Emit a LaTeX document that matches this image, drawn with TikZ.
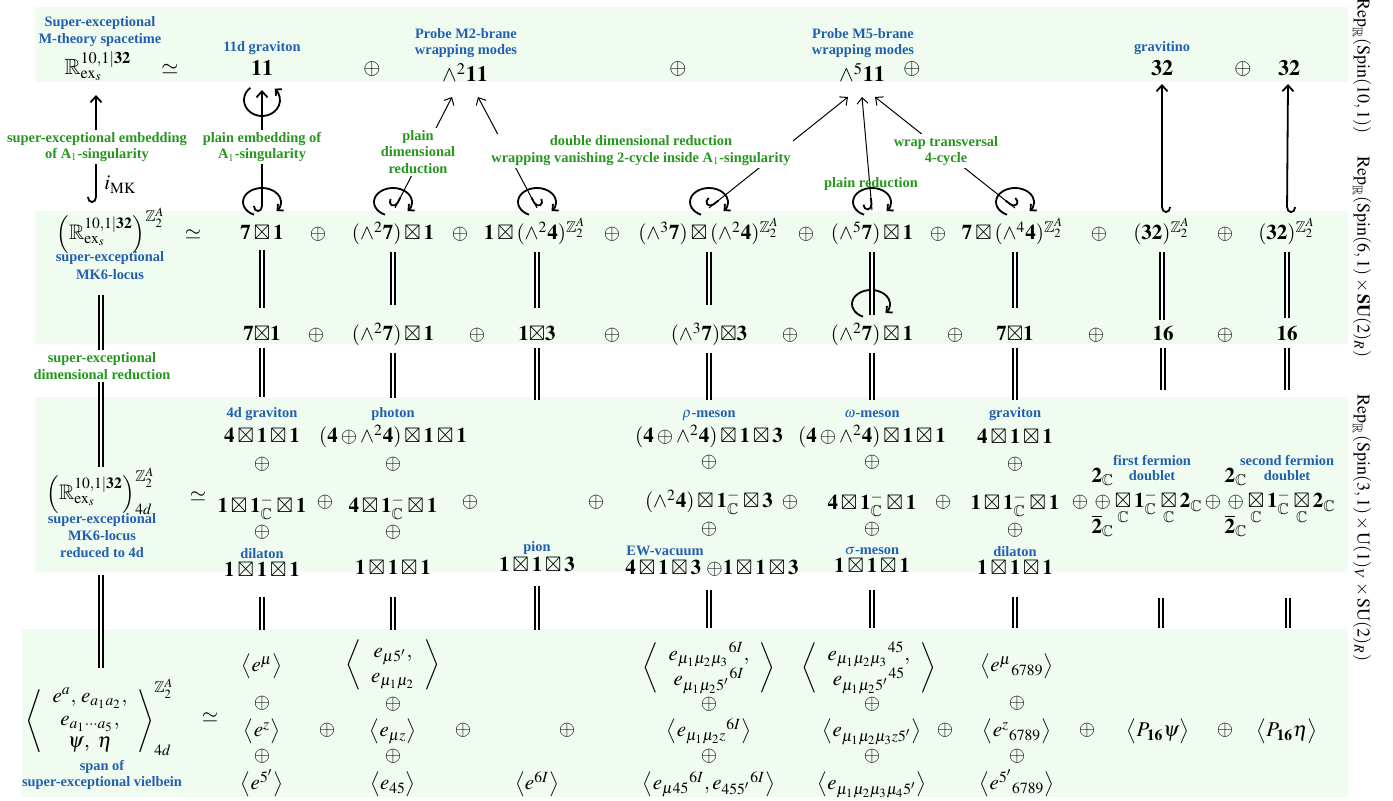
\documentclass[tikz,border=0pt]{standalone}
\usepackage{amsmath}
\usepackage{mathptmx}
\usepackage{amssymb}
\usepackage{fontspec}
\setmainfont{Liberation Serif}
\usetikzlibrary{arrows.meta,calc}
\definecolor{bandg}{RGB}{240,252,240}
\definecolor{labblue}{RGB}{35,95,175}
\definecolor{labgreen}{RGB}{38,150,30}
\newcommand\myZ{\mathbb{Z}_2^{A}}
\newcommand\myC{\mathbb{C}}
\newcommand\myRex{\mathbb{R}^{10,1\vert\mathbf{32}}_{\mathrm{ex}_s}}
\newcommand\myferm{\begin{array}{@{}c@{}}\mathbf{2}_{\myC}\\ \oplus\\ \overline{\mathbf{2}}_{\myC}\end{array}\!\underset{\myC}{\boxtimes}\mathbf{1}^-_{\myC}\underset{\myC}{\boxtimes}\mathbf{2}_{\myC}}
\newcommand\opl[3]{\node[m] (#1) at (#2,#3) {$\oplus$};}
\newcommand\looptop[2]{\draw[lp] ($(#1,#2)+(230:18 and 16)$) arc[start angle=230,end angle=-45,x radius=18,y radius=16];}
\newcommand\loopbot[2]{\draw[lp] ($(#1,#2)+(115:19 and 14)$) arc[start angle=115,end angle=400,x radius=19,y radius=14];}
\tikzset{
  m/.style={anchor=base, inner sep=0pt, font=\fontsize{10.5}{12.6}\selectfont},
  mt/.style={anchor=base, inner sep=0pt, font=\fontsize{11}{13.2}\selectfont},
  bl/.style={anchor=base, inner sep=0pt, text=labblue, font=\fontsize{7.2}{8.4}\selectfont\bfseries},
  gl/.style={anchor=center, inner sep=1.2pt, fill=white, text=labgreen, align=center, font=\fontsize{7.2}{8.4}\selectfont\bfseries},
  rot/.style={rotate=-90, inner sep=0pt, font=\fontsize{9}{11}\selectfont},
  thk/.style={line width=0.9pt},
  thn/.style={line width=0.5pt},
  dbl/.style={double, double distance=1.2pt, line width=0.75pt},
  hookW/.tip={Hooks[right,width=9pt,length=3pt]},
  hookE/.tip={Hooks[left,width=9pt,length=3pt]},
  hd/.tip={Straight Barb[length=3pt,width=5.5pt]},
  sb/.tip={Straight Barb[length=2.2pt,width=4.4pt]},
  lp/.style={line width=0.9pt, -sb},
}
\begin{document}
\begin{tikzpicture}[x=0.5pt,y=-0.5pt]
\useasboundingbox (0,0) rectangle (1393,801);
% bands
\fill[bandg] (35,7) rectangle (1348,82);
\fill[bandg] (35,211) rectangle (1348,344);
\fill[bandg] (35,397) rectangle (1348,572);
\fill[bandg] (22,629) rectangle (1348,797);

% ---------- Row A
\node[bl] (tA0a) at (100,27) {Super-exceptional};
\node[bl] (tA0b) at (100,44) {M-theory spacetime};
\node[mt] (A0) at (98,75) {$\myRex$};
\node[mt] (eqA) at (170,75) {$\simeq$};
\node[bl] (tA1) at (262,52) {11d graviton};
\node[mt] (A1) at (262,76) {$\mathbf{11}$};
\node[mt] (pA1) at (372,75) {$\oplus$};
\node[bl] (tA2a) at (466,39) {Probe M2-brane};
\node[bl] (tA2b) at (466,55) {wrapping modes};
\node[mt] (A2) at (465,82) {$\wedge^2\mathbf{11}$};
\node[mt] (pA2) at (678,75) {$\oplus$};
\node[bl] (tA3a) at (863,39) {Probe M5-brane};
\node[bl] (tA3b) at (863,55) {wrapping modes};
\node[mt] (A3) at (862,82) {$\wedge^5\mathbf{11}$};
\node[mt] (pA3) at (912,75) {$\oplus$};
\node[bl] (tA4) at (1162,52) {gravitino};
\node[mt] (A4) at (1162,76) {$\mathbf{32}$};
\node[mt] (pA4) at (1243,75) {$\oplus$};
\node[mt] (A5) at (1289,76) {$\mathbf{32}$};

% ---------- Row B
\node[m] (B0) at (111,240) {$\Big(\myRex\Big)^{\myZ}$};
\node[bl] (tB0a) at (110,262) {super-exceptional};
\node[bl] (tB0b) at (110,280) {MK6-locus};
\node[m] (eqB) at (193,240) {$\simeq$};
\node[m] (B1) at (262,240) {$\mathbf{7}\boxtimes\mathbf{1}$};
\opl{pB1}{318}{240}
\node[m] (B2) at (393,240) {$(\wedge^2\mathbf{7})\boxtimes\mathbf{1}$};
\opl{pB2}{460}{240}
\node[m] (B3) at (535,240) {$\mathbf{1}\boxtimes(\wedge^2\mathbf{4})^{\myZ}$};
\opl{pB3}{612}{240}
\node[m] (B4) at (709,240) {$(\wedge^3\mathbf{7})\boxtimes(\wedge^2\mathbf{4})^{\myZ}$};
\opl{pB4}{806}{240}
\node[m] (B5) at (872,240) {$(\wedge^5\mathbf{7})\boxtimes\mathbf{1}$};
\opl{pB5}{938}{240}
\node[m] (B6) at (1013,240) {$\mathbf{7}\boxtimes(\wedge^4\mathbf{4})^{\myZ}$};
\opl{pB6}{1099}{240}
\node[m] (B7) at (1162,240) {$(\mathbf{32})^{\myZ}$};
\opl{pB7}{1225}{240}
\node[m] (B8) at (1287,240) {$(\mathbf{32})^{\myZ}$};

% ---------- Row C
\node[m] (C1) at (262,341) {$\mathbf{7}{\boxtimes}\mathbf{1}$};
\opl{pC1}{316}{341}
\node[m] (C2) at (393,341) {$(\wedge^2\mathbf{7})\boxtimes\mathbf{1}$};
\opl{pC2}{477}{341}
\node[m] (C3) at (537,341) {$\mathbf{1}{\boxtimes}\mathbf{3}$};
\opl{pC3}{612}{341}
\node[m] (C4) at (709,341) {$(\wedge^3\mathbf{7}){\boxtimes}\mathbf{3}$};
\opl{pC4}{790}{341}
\node[m] (C5) at (872,341) {$(\wedge^2\mathbf{7})\boxtimes\mathbf{1}$};
\opl{pC5}{955}{341}
\node[m] (C6) at (1015,341) {$\mathbf{7}{\boxtimes}\mathbf{1}$};
\opl{pC6}{1096}{341}
\node[m] (C7) at (1163,341) {$\mathbf{16}$};
\opl{pC7}{1225}{341}
\node[m] (C8) at (1287,341) {$\mathbf{16}$};

% ---------- Row D
\node[m] (D0) at (101,500) {$\Big(\myRex\Big)^{\myZ}_{4d}$};
\node[bl] (tD0a) at (102,524) {super-exceptional};
\node[bl] (tD0b) at (102,541) {MK6-locus};
\node[bl] (tD0c) at (102,558) {reduced to 4d};
\node[m] (eqD) at (198,502) {$\simeq$};

\node[bl] (tD1) at (262,418) {4d graviton};
\node[m] (D1a) at (262,443) {$\mathbf{4}\boxtimes\mathbf{1}\boxtimes\mathbf{1}$};
\opl{pD1a}{262}{470}
\node[m] (D1m) at (262,513) {$\mathbf{1}\boxtimes\mathbf{1}^-_{\myC}\boxtimes\mathbf{1}$};
\opl{pD1b}{262}{538}
\node[bl] (tD1b) at (262,559) {dilaton};
\node[m] (D1b) at (262,577) {$\mathbf{1}\boxtimes\mathbf{1}\boxtimes\mathbf{1}$};

\node[bl] (tD2) at (393,418) {photon};
\node[m] (D2a) at (393,443) {$(\mathbf{4}\oplus\wedge^2\mathbf{4})\boxtimes\mathbf{1}\boxtimes\mathbf{1}$};
\opl{pD2a}{393}{470}
\node[m] (D2m) at (393,513) {$\mathbf{4}\boxtimes\mathbf{1}^-_{\myC}\boxtimes\mathbf{1}$};
\opl{pD2b}{393}{538}
\node[m] (D2b) at (393,575) {$\mathbf{1}\boxtimes\mathbf{1}\boxtimes\mathbf{1}$};

\node[bl] (tD3) at (537,552) {pion};
\node[m] (D3b) at (537,572) {$\mathbf{1}\boxtimes\mathbf{1}\boxtimes\mathbf{3}$};

\node[bl] (tD4) at (709,418) {$\rho$-meson};
\node[m] (D4a) at (709,443) {$(\mathbf{4}\oplus\wedge^2\mathbf{4})\boxtimes\mathbf{1}\boxtimes\mathbf{3}$};
\opl{pD4a}{709}{468}
\node[m] (D4m) at (709,508) {$(\wedge^2\mathbf{4})\boxtimes\mathbf{1}^-_{\myC}\boxtimes\mathbf{3}$};
\opl{pD4b}{709}{535}
\node[bl] (tD4b) at (665,556) {EW-vacuum};
\node[m] (D4b) at (712,575) {$\mathbf{4}\boxtimes\mathbf{1}\boxtimes\mathbf{3}\ \mathord{\oplus}\mathbf{1}\boxtimes\mathbf{1}\boxtimes\mathbf{3}$};

\node[bl] (tD5) at (872,418) {$\omega$-meson};
\node[m] (D5a) at (872,443) {$(\mathbf{4}\oplus\wedge^2\mathbf{4})\boxtimes\mathbf{1}\boxtimes\mathbf{1}$};
\opl{pD5a}{872}{468}
\node[m] (D5m) at (872,510) {$\mathbf{4}\boxtimes\mathbf{1}^-_{\myC}\boxtimes\mathbf{1}$};
\opl{pD5b}{872}{535}
\node[bl] (tD5b) at (872,555) {$\sigma$-meson};
\node[m] (D5b) at (872,573) {$\mathbf{1}\boxtimes\mathbf{1}\boxtimes\mathbf{1}$};

\node[bl] (tD6) at (1015,418) {graviton};
\node[m] (D6a) at (1015,444) {$\mathbf{4}\boxtimes\mathbf{1}\boxtimes\mathbf{1}$};
\opl{pD6a}{1015}{470}
\node[m] (D6m) at (1015,510) {$\mathbf{1}\boxtimes\mathbf{1}^-_{\myC}\boxtimes\mathbf{1}$};
\opl{pD6b}{1015}{536}
\node[bl] (tD6b) at (1015,557) {dilaton};
\node[m] (D6b) at (1015,575) {$\mathbf{1}\boxtimes\mathbf{1}\boxtimes\mathbf{1}$};

\node[bl] (tF1a) at (1152,466) {first fermion};
\node[bl] (tF1b) at (1152,481) {doublet};
\node[m] (F1) at (1147,508) {$\myferm$};
\node[bl] (tF2a) at (1287,466) {second fermion};
\node[bl] (tF2b) at (1287,481) {doublet};
\node[m] (F2) at (1280,508) {$\myferm$};

\opl{pD1}{325}{508}
\opl{pD2}{470}{508}
\opl{pD3}{596}{508}
\opl{pD4}{790}{508}
\opl{pD5}{943}{508}
\opl{pD6}{1080}{508}
\opl{pD7}{1213}{508}

% ---------- Row E
\node[m] (E0) at (100,726) {$\def\arraystretch{0.9}\left\langle\begin{array}{c} e^a,\, e_{a_1a_2},\\ e_{a_1\cdots a_5},\\ \psi,\ \eta\end{array}\right\rangle^{\myZ}_{4d}$};
\node[bl] (tE0a) at (102,770) {span of};
\node[bl] (tE0b) at (102,787) {super-exceptional vielbein};
\node[m] (eqE) at (210,723) {$\simeq$};

\node[m] (E1a) at (262,672) {$\big\langle e^{\mu}\big\rangle$};
\opl{pE1a}{262}{709}
\node[m] (E1m) at (262,737) {$\big\langle e^{z}\big\rangle$};
\opl{pE1b}{262}{762}
\node[m] (E1b) at (262,790) {$\big\langle e^{5'}\big\rangle$};

\node[m] (E2a) at (393,670) {$\left\langle\begin{array}{c} e_{\mu 5'},\\ e_{\mu_1\mu_2}\end{array}\right\rangle$};
\opl{pE2a}{393}{710}
\node[m] (E2m) at (393,737) {$\big\langle e_{\mu z}\big\rangle$};
\opl{pE2b}{393}{762}
\node[m] (E2b) at (393,790) {$\big\langle e_{45}\big\rangle$};

\node[m] (E3) at (537,790) {$\big\langle e^{6I}\big\rangle$};

\node[m] (E4a) at (709,673) {$\left\langle\begin{array}{c} e_{\mu_1\mu_2\mu_3}{}^{6I},\\ e_{\mu_1\mu_2 5'}{}^{6I}\end{array}\right\rangle$};
\opl{pE4a}{709}{710}
\node[m] (E4m) at (709,737) {$\big\langle e_{\mu_1\mu_2 z}{}^{6I}\big\rangle$};
\opl{pE4b}{709}{762}
\node[m] (E4b) at (709,790) {$\big\langle e_{\mu 45}{}^{6I}, e_{455'}{}^{6I}\big\rangle$};

\node[m] (E5a) at (869,673) {$\left\langle\begin{array}{c} e_{\mu_1\mu_2\mu_3}{}^{45},\\ e_{\mu_1\mu_2 5'}{}^{45}\end{array}\right\rangle$};
\opl{pE5a}{872}{710}
\node[m] (E5m) at (872,737) {$\big\langle e_{\mu_1\mu_2\mu_3 z 5'}\big\rangle$};
\opl{pE5b}{872}{762}
\node[m] (E5b) at (872,790) {$\big\langle e_{\mu_1\mu_2\mu_3\mu_4 5'}\big\rangle$};

\node[m] (E6a) at (1017,672) {$\big\langle e^{\mu}{}_{6789}\big\rangle$};
\opl{pE6a}{1017}{709}
\node[m] (E6m) at (1017,737) {$\big\langle e^{z}{}_{6789}\big\rangle$};
\opl{pE6b}{1017}{762}
\node[m] (E6b) at (1017,790) {$\big\langle e^{5'}{}_{6789}\big\rangle$};

\node[m] (E7) at (1158,737) {$\big\langle P_{\mathbf{16}}\psi\big\rangle$};
\node[m] (E8) at (1287,737) {$\big\langle P_{\mathbf{16}}\eta\big\rangle$};

\opl{pE1}{327}{736}
\opl{pE2}{463}{736}
\opl{pE3}{567}{736}
\opl{pE4}{945}{736}
\opl{pE5}{1087}{736}
\opl{pE6}{1225}{736}

% ---------- right labels
\node[rot] (R1) at (1362,66) {$\mathrm{Rep}_{\mathbb{R}}(\mathrm{Spin}(10,1))$};
\node[rot] (R2) at (1362,257) {$\mathrm{Rep}_{\mathbb{R}}(\mathrm{Spin}(6,1)\times\mathbf{SU}(2)_R)$};
\node[rot] (R3) at (1362,528) {$\mathrm{Rep}_{\mathbb{R}}(\mathrm{Spin}(3,1)\times\mathrm{U}(1)_V\times\mathrm{SU}(2)_R)$};

% ---------- arrows B -> A
\path ($(B0.base)+(-15,-37)$) coordinate (t0) ($(A0.base)+(-2,20)$) coordinate (h0);
\path ($(B1.base)+(0,-28)$) coordinate (t1) ($(A1.base)+(0,14)$) coordinate (h1);
\path ($(B2.base)+(2,-32)$) coordinate (t2) ($(A2.base)+(-13,15)$) coordinate (h2);
\path ($(B3.base)+(2,-32)$) coordinate (t3) ($(A2.base)+(13,15)$) coordinate (h3);
\path ($(B4.base)+(0,-32)$) coordinate (t4) ($(A3.base)+(-14,15)$) coordinate (h4);
\path ($(B5.base)+(0,-30)$) coordinate (t5) ($(A3.base)+(0,15)$) coordinate (h5);
\path ($(B6.base)+(2,-32)$) coordinate (t6) ($(A3.base)+(13,15)$) coordinate (h6);
\path ($(B7.base)+(0,-27)$) coordinate (t7) ($(A4.base)+(0,8)$) coordinate (h7);
\path ($(B8.base)+(0,-27)$) coordinate (t8) ($(A5.base)+(-1,8)$) coordinate (h8);

\draw[thk, hookW-hd] (t0) -- (h0);
\draw[thk, hookW-hd] (t1) -- (h1);
\draw[thn, -hd] (t2) -- (h2);
\draw[thk, hookW-] (t2) -- ($(t2)!6pt!(h2)$);
\draw[thn, -hd] (t3) -- (h3);
\draw[thk, hookE-] (t3) -- ($(t3)!6pt!(h3)$);
\draw[thn, -hd] (t4) -- (h4);
\draw[thk, hookW-] (t4) -- ($(t4)!6pt!(h4)$);
\draw[thn, -hd] (t5) -- (h5);
\draw[thk, hookW-] (t5) -- ($(t5)!6pt!(h5)$);
\draw[thn, -hd] (t6) -- (h6);
\draw[thk, hookE-] (t6) -- ($(t6)!6pt!(h6)$);
\draw[thk, hookE-hd] (t7) -- (h7);
\draw[thk, hookE-hd] (t8) -- (h8);

% loops
\looptop{262}{100}
\loopbot{262}{202}
\loopbot{393}{202}
\loopbot{537}{202}
\loopbot{709}{202}
\loopbot{872}{202}
\loopbot{1015}{202}
\loopbot{871}{304}

% ---------- double lines
\draw[dbl] ($(tB0b.base)+(-9,15)$) -- ($(D0.base)+(0,-33)$);
\draw[dbl] ($(tD0c.base)+(-1,17)$) -- ($(E0.base)+(1,-58)$);

\draw[dbl] ($(B1.base)+(0,10)$) -- ($(C1.base)+(0,-33)$);
\draw[dbl] ($(B2.base)+(0,12)$) -- ($(C2.base)+(0,-36)$);
\draw[dbl] ($(B3.base)+(2,12)$) -- ($(C3.base)+(0,-33)$);
\draw[dbl] ($(B4.base)+(0,12)$) -- ($(C4.base)+(0,-36)$);
\draw[dbl] ($(B5.base)+(0,12)$) -- ($(C5.base)+(0,-26)$);
\draw[dbl] ($(B6.base)+(2,12)$) -- ($(C6.base)+(0,-33)$);
\draw[dbl] ($(B7.base)+(0,12)$) -- ($(C7.base)+(-1,-21)$);
\draw[dbl] ($(B8.base)+(0,12)$) -- ($(C8.base)+(0,-23)$);

\draw[dbl] ($(C1.base)+(0,7)$) -- ($(tD1.base)+(0,-21)$);
\draw[dbl] ($(C2.base)+(0,12)$) -- ($(tD2.base)+(0,-20)$);
\draw[dbl] ($(C3.base)+(0,7)$) -- ($(tD3.base)+(0,-152)$);
\draw[dbl] ($(C4.base)+(0,12)$) -- ($(tD4.base)+(0,-18)$);
\draw[dbl] ($(C5.base)+(0,12)$) -- ($(tD5.base)+(0,-18)$);
\draw[dbl] ($(C6.base)+(0,7)$) -- ($(tD6.base)+(0,-18)$);
\draw[dbl] ($(C7.base)+(0,7)$) -- ($(C7.base |- F1.base)+(0,-118)$);
\draw[dbl] ($(C8.base)+(0,7)$) -- ($(C8.base |- F2.base)+(0,-118)$);

\draw[dbl] ($(D1b.base)+(0,20)$) -- ($(E1a.base)+(0,-42)$);
\draw[dbl] ($(D2b.base)+(0,22)$) -- ($(E2a.base)+(0,-40)$);
\draw[dbl] ($(D3b.base)+(0,14)$) -- ($(E3.base)+(0,-160)$);
\draw[dbl] ($(D4b.base)+(-3,15)$) -- ($(E4a.base)+(0,-45)$);
\draw[dbl] ($(D5b.base)+(0,17)$) -- ($(E5a.base)+(3,-45)$);
\draw[dbl] ($(D6b.base)+(0,22)$) -- ($(E6a.base)+(-2,-44)$);
\draw[dbl] ($(C7.base |- F1.base)+(-2,90)$) -- ($(E7.base)+(3,-109)$);
\draw[dbl] ($(C8.base |- F2.base)+(1,90)$) -- ($(E8.base)+(1,-109)$);

% ---------- green labels
\node[gl] (g0) at (97,147) {super-exceptional embedding\\of A$_1$-singularity};
\node[m, anchor=base west] (iMK) at (104,190) {$i_{\mathrm{MK}}$};
\node[gl] (g1) at (262,147) {plain embedding of\\A$_1$-singularity};
\node[gl] (g2) at (418,152) {plain\\dimensional\\reduction};
\node[gl] (g3) at (641,151) {double dimensional reduction\\wrapping vanishing 2-cycle inside A$_1$-singularity};
\node[bl, text=labgreen] (g4) at (871,188) {plain reduction};
\node[gl] (g5) at (946,151) {wrap transversal\\4-cycle};
\node[gl] (g6) at (102,366) {super-exceptional\\dimensional reduction};
\end{tikzpicture}
\end{document}
